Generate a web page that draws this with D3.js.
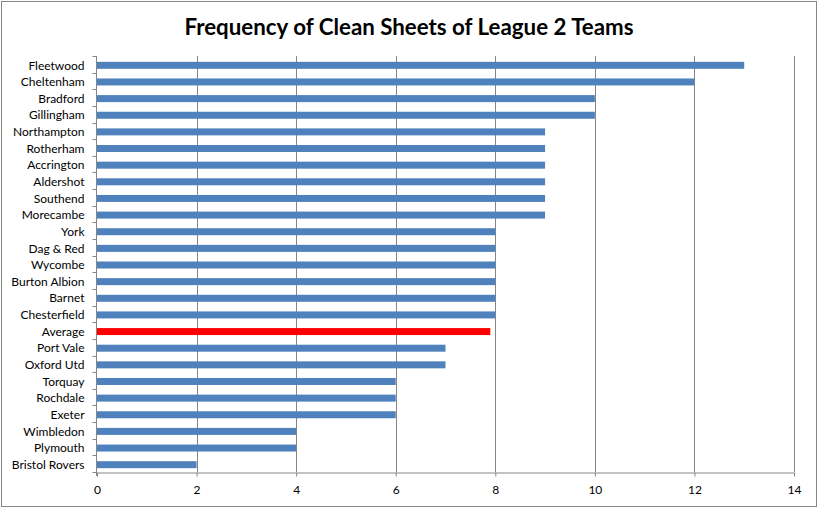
<!DOCTYPE html>
<html><head><meta charset="utf-8">
<script src="https://cdn.jsdelivr.net/npm/d3@7"></script>
<style>body{margin:0;background:#fff}svg{display:block}</style>
</head><body>
<svg id="c" width="818" height="508"></svg>
<script>
const teams = ["Fleetwood","Cheltenham","Bradford","Gillingham","Northampton","Rotherham","Accrington","Aldershot","Southend","Morecambe","York","Dag & Red","Wycombe","Burton Albion","Barnet","Chesterfield","Average","Port Vale","Oxford Utd","Torquay","Rochdale","Exeter","Wimbledon","Plymouth","Bristol Rovers"];
const cleanSheets = [13,12,10,10,9,9,9,9,9,9,8,8,8,8,8,8,7.9,7,7,6,6,6,4,4,2];
const xTicks = [0,2,4,6,8,10,12,14];
const title = "Frequency of Clean Sheets of League 2 Teams";

const svg = d3.select("#c");
const font = "Lato, 'Open Sans', sans-serif";
const m = {left:97, right:794, top:56, bottom:472};

svg.append("rect").attr("x",1.5).attr("y",1.5).attr("width",815).attr("height",505)
  .attr("fill","#fff").attr("stroke","#868686").attr("stroke-width",1);

const x = d3.scaleLinear().domain([0,14]).range([m.left,m.right]);
const y = d3.scaleBand().domain(teams).range([m.top+1,m.bottom+1]).paddingInner(0.58).paddingOuter(0.29);
const yb = d3.scaleBand().domain(teams).range([m.top,m.bottom]);

// gridlines
svg.append("g").selectAll("line").data(xTicks.slice(1)).join("line")
  .attr("x1",d=>Math.round(x(d))+0.5).attr("x2",d=>Math.round(x(d))+0.5)
  .attr("y1",m.top).attr("y2",m.bottom).attr("stroke","#868686");

// bars
svg.append("g").selectAll("rect").data(teams).join("rect")
  .attr("x",x(0)).attr("y",d=>y(d)).attr("height",y.bandwidth())
  .attr("width",(d,i)=>x(cleanSheets[i])-x(0))
  .attr("fill",d=>d==="Average"?"#FF0000":"#4F81BD");

// x axis
const xa = svg.append("g").attr("transform",`translate(0,${m.bottom+0.5})`)
  .call(d3.axisBottom(x).tickValues(xTicks).tickSize(4).tickSizeOuter(0).tickPadding(9));
xa.select(".domain").attr("stroke","#868686");
xa.selectAll(".tick line").attr("stroke","#868686");
xa.selectAll("text").attr("font-family",font).attr("font-size",12).attr("fill","#000");

// y axis: ticks at category boundaries
const ya = svg.append("g").attr("transform",`translate(${m.left-0.5},0)`);
ya.append("line").attr("x1",0).attr("x2",0).attr("y1",m.top).attr("y2",m.bottom+4).attr("stroke","#868686");
const bounds = teams.map(t=>yb(t)).concat([m.bottom]);
ya.selectAll("line.t").data(bounds).join("line").attr("class","t")
  .attr("x1",-4).attr("x2",0).attr("y1",d=>Math.round(d)+0.5).attr("y2",d=>Math.round(d)+0.5).attr("stroke","#868686");
ya.selectAll("text").data(teams).join("text")
  .attr("x",-12).attr("y",d=>yb(d)+yb.bandwidth()/2+1).attr("dy","0.35em")
  .attr("text-anchor","end").attr("font-family",font).attr("font-size",12).attr("fill","#000")
  .text(d=>d);

// title
svg.append("text").attr("x",409).attr("y",35).attr("text-anchor","middle")
  .attr("font-family",font).attr("font-weight","bold").attr("font-size",22.3).attr("fill","#000")
  .text(title);
</script>
</body></html>
